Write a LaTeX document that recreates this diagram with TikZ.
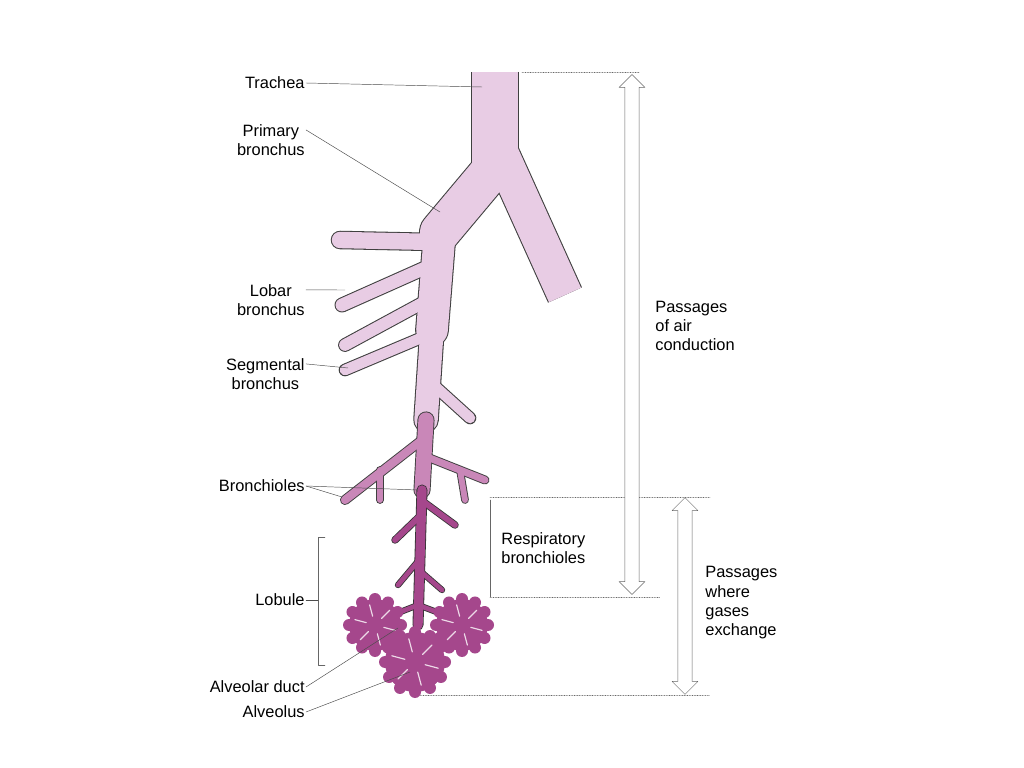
\documentclass[tikz,border=0pt]{standalone}
\usepackage{fontspec}
\setmainfont{Liberation Sans}
\usetikzlibrary{shapes.arrows}
\definecolor{tube}{HTML}{E8CCE4}
\definecolor{deep}{HTML}{A5478C}
\definecolor{mid}{HTML}{C987B8}
\tikzset{
  lbl/.style={font=\fontsize{14}{16.5}\selectfont, align=center, inner sep=1pt},
  lead/.style={draw=black!70, thin},
  dots/.style={draw=black!60, densely dotted},
  bracket/.style={draw=black!60, thin},
  span/.style={double arrow, draw=black!60, fill=white, rotate=90, minimum width=22pt,
    double arrow head extend=1pt, inner sep=1pt, double arrow head indent=0pt},
}
\begin{document}
\begin{tikzpicture}[x=0.03cm, y=-0.03cm, line cap=round, line join=round]
\useasboundingbox (0,0) rectangle (1024,768);
% outline pass then fill pass
\foreach \ex/\col in {1.8/black!75, 0/tube}{
  \begin{scope}[draw=\col]
  \draw[line width={(40+\ex)*1pt}, line cap=butt] (495,72) -- (495,172);
  \draw[line width={(30+\ex)*1pt}, line cap=butt] (495,140) -- (565,295);
  \draw[line width={(34+\ex)*1pt}] (492,170) -- (440,232);
  \draw[line width={(27+\ex)*1pt}] (440,230) -- (432,330);
  \draw[line width={(20+\ex)*1pt}] (432,330) -- (426,420);
  \draw[line width={(14+\ex)*1pt}] (435,242) -- (340,240);
  \draw[line width={(11+\ex)*1pt}] (425,268) -- (342,305);
  \draw[line width={(10+\ex)*1pt}] (428,300) -- (345,345);
  \draw[line width={(9+\ex)*1pt}] (428,335) -- (345,370);
  \draw[line width={(9+\ex)*1pt}] (428,380) -- (470,418);
  \end{scope}}
\foreach \ex/\col in {1.6/black!75, 0/mid}{
  \begin{scope}[draw=\col]
  \draw[line width={(13+\ex)*1pt}] (426,420) -- (422,490);
  \draw[line width={(7+\ex)*1pt}] (422,440) -- (345,500);
  \draw[line width={(6+\ex)*1pt}] (422,455) -- (485,480);
  \draw[line width={(5+\ex)*1pt}] (380,470) -- (380,500);
  \draw[line width={(5+\ex)*1pt}] (460,470) -- (465,500);
  \end{scope}}
\foreach \ex/\col in {1.4/black!80, 0/deep}{
  \begin{scope}[draw=\col]
  \draw[line width={(8+\ex)*1pt}] (422,490) -- (418,625);
  \draw[line width={(5+\ex)*1pt}] (421,500) -- (455,525);
  \draw[line width={(5+\ex)*1pt}] (421,515) -- (395,540);
  \draw[line width={(4+\ex)*1pt}] (419,560) -- (398,585);
  \draw[line width={(4+\ex)*1pt}] (419,570) -- (442,590);
  \draw[line width={(4+\ex)*1pt}] (418,605) -- (380,620);
  \draw[line width={(4+\ex)*1pt}] (418,605) -- (458,620);
  \end{scope}}
% alveolar clusters
\foreach \cx/\cy/\r in {375/625/26, 462/625/26, 415/662/30}{
  \foreach \a in {0,30,...,330}
    \fill[deep] (\cx,\cy) ++(\a:\r) circle[radius=6];
  \fill[deep] (\cx,\cy) circle[radius=\r];
  \foreach \a in {15,75,...,315}
    \draw[white!80!deep, line width=1pt] (\cx,\cy) ++(\a:{\r*0.35}) -- ++(\a:{\r*0.45});
}
% brackets and spans
\draw[dots] (522,72) -- (640,72);
\draw[dots] (490,497) -- (710,497);
\draw[dots] (490,597) -- (660,597);
\draw[dots] (420,695) -- (710,695);
\draw[bracket] (490,500) -- (490,597);
\draw[bracket] (325,537) -- (318,537) -- (318,665) -- (325,665);
\node (airspan) [span, minimum height=15.6cm] at (632,334.5) {};
\node (gasspan) [span, minimum height=5.9cm] at (685,596) {};
% labels
\node (trachea) [lbl, anchor=east] at (306,83) {Trachea};
\node (primary) [lbl, anchor=east] at (306,140) {Primary\\bronchus};
\node (lobar) [lbl, anchor=east] at (306,300) {Lobar\\bronchus};
\node (segmental) [lbl, anchor=east] at (306,374) {Segmental\\bronchus};
\node (bronchioles) [lbl, anchor=east] at (306,486) {Bronchioles};
\node (lobule) [lbl, anchor=east] at (306,600) {Lobule};
\node (duct) [lbl, anchor=east] at (306,687) {Alveolar duct};
\node (alveolus) [lbl, anchor=east] at (306,712) {Alveolus};
\node (resp) [lbl, anchor=west] at (500,548) {Respiratory\\bronchioles};
\node (air) [lbl, anchor=west, align=left] at (654,326) {Passages\\of air\\conduction};
\node (gas) [lbl, anchor=west, align=left] at (704,603) {Passages\\where\\gases\\exchange};
% leaders
\draw[lead] (trachea.east) -- (482,87);
\draw[lead] ([yshift=-6pt]primary.north east) -- (440,212);
\draw[lead] ([yshift=-6pt]lobar.north east) -- (345,290);
\draw[lead] ([yshift=-6pt]segmental.north east) -- (348,368);
\draw[lead] (bronchioles.east) -- (342,497);
\draw[lead] (bronchioles.east) -- (418,490);
\draw[lead] (lobule.east) -- (318,600);
\draw[lead] (duct.east) -- (398,628);
\draw[lead] (alveolus.east) -- (410,672);
\end{tikzpicture}
\end{document}
